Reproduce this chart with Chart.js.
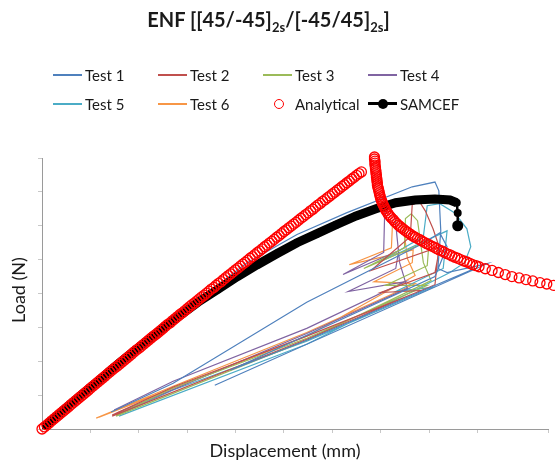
<!DOCTYPE html>
<html lang="en">
<head>
<meta charset="UTF-8">
<title>ENF load-displacement</title>
<script src="https://cdn.jsdelivr.net/npm/chart.js"></script>
<style>
    body { margin: 0; background: #fff; font-family: 'Lato', sans-serif; color: #1a1a1a; }
    .frame { position: relative; width: 555px; height: 462px; overflow: hidden; }
    #chart { position: absolute; left: 0; top: 0; }
    .title { position: absolute; top: 7px; left: 0; width: 537px; text-align: center; font-weight: bold; font-size: 20px; }
    .title sub { font-size: 13px; vertical-align: -5px; line-height: 0; }
    .leg { position: absolute; height: 18px; font-size: 15px; line-height: 18px; white-space: nowrap; }
    .leg .line { position: absolute; left: 0; top: 8px; width: 29px; height: 1.6px; }
    .leg .ring { position: absolute; left: 11px; top: 4px; width: 8px; height: 8px; border: 1.3px solid #ff0000; border-radius: 50%; }
    .leg .dot { position: absolute; left: 10px; top: 4px; width: 10px; height: 10px; background: #000; border-radius: 50%; }
    .leg span { position: absolute; left: 32px; top: 0; }
    .xtitle { position: absolute; top: 439px; left: 135px; width: 300px; text-align: center; font-size: 18px; }
    .ytitle { position: absolute; top: 279px; left: -32px; width: 100px; text-align: center; font-size: 18px; transform: rotate(-90deg); }
</style>
</head>
<body>
<div class="frame">
    <canvas id="chart" width="555" height="462"></canvas>
    <div class="title">ENF [[45/-45]<sub>2s</sub>/[-45/45]<sub>2s</sub>]</div>
    <div id="legend"></div>
    <div class="xtitle">Displacement (mm)</div>
    <div class="ytitle">Load (N)</div>
</div>
<script>
// displacement (mm), load (N)
const test1 = [[0.06,6],[2.20,268],[4.24,491],[5.27,574],[6.29,638],[7.65,715],[8.12,729],[8.20,703],[8.24,585],[8.18,474],[8.37,462],[9.20,488],[3.57,129],
    null,
    [1.43,50],[2.71,135],[5.47,374],[7.86,547],[8.22,579],[8.37,538],[8.12,450],[3.90,174],[5.47,262],[8.94,474]];
const test2 = [[1.45,41],[2.71,124],[5.47,274],[7.84,409],[7.00,403],[8.12,462],[8.22,538],[6.80,468],[7.61,568],[7.65,662],[7.80,671],[7.92,644],[8.08,591],[8.20,541],[8.12,426],[5.47,265],[1.45,38]];
const test3 = [[1.53,41],[2.71,121],[5.47,268],[7.96,424],[7.10,424],[7.96,482],[8.00,556],[6.65,474],[7.49,535],[7.51,621],[7.63,635],[7.76,615],[7.88,491],[8.04,438],[5.47,262],[1.53,38]];
const test4 = [[1.49,56],[2.71,141],[5.47,297],[7.51,435],[6.33,406],[7.31,474],[7.37,526],[6.22,456],[7.06,521],[7.08,635],[7.18,653],[7.29,632],[7.39,491],[7.55,415],[5.47,282],[1.55,47]];
const test5 = [[1.55,41],[2.71,115],[5.47,259],[8.08,418],[7.31,406],[8.29,474],[8.37,585],[6.94,491],[7.88,568],[7.96,659],[8.22,665],[8.53,638],[8.78,591],[8.86,538],[8.73,491],[8.43,462],[5.47,250],[1.59,38]];
const test6 = [[1.12,32],[2.71,126],[5.47,285],[7.71,429],[6.86,435],[7.65,491],[7.67,529],[6.35,485],[7.22,535],[7.24,600],[7.35,618],[7.47,597],[7.55,503],[7.71,453],[5.47,274],[1.18,35]];

const analytical = [[0,0],[0.05,6],[0.1,12],[0.15,18],[0.2,24],[0.25,30],[0.3,36],[0.35,42],[0.4,48],[0.45,54],
    [0.5,60],[0.55,66],[0.6,72],[0.65,78],[0.7,84],[0.75,90],[0.8,96],[0.85,102],[0.9,108],[0.95,114],
    [1.0,120],[1.05,126],[1.1,132],[1.15,138],[1.2,144],[1.25,150],[1.3,156],[1.35,162],[1.4,168],[1.45,174],
    [1.5,180],[1.55,185],[1.6,191],[1.65,197],[1.7,203],[1.75,209],[1.8,215],[1.85,221],[1.9,227],[1.95,233],
    [2.0,238],[2.05,244],[2.1,250],[2.15,256],[2.2,262],[2.25,268],[2.3,274],[2.35,279],[2.4,285],[2.45,291],
    [2.5,297],[2.55,303],[2.6,309],[2.65,314],[2.7,320],[2.75,326],[2.8,332],[2.85,338],[2.9,343],[2.95,349],
    [3.0,355],[3.05,361],[3.1,367],[3.15,372],[3.2,378],[3.25,384],[3.3,390],[3.35,395],[3.4,401],[3.45,407],
    [3.5,413],[3.55,418],[3.6,424],[3.65,430],[3.7,435],[3.75,441],[3.8,447],[3.85,453],[3.9,458],[3.95,464],
    [4.0,470],[4.05,475],[4.1,481],[4.15,487],[4.2,492],[4.25,498],[4.3,504],[4.35,509],[4.4,515],[4.45,521],
    [4.5,526],[4.55,532],[4.6,538],[4.65,543],[4.7,549],[4.75,554],[4.8,560],[4.85,566],[4.9,571],[4.95,577],
    [5.0,583],[5.05,588],[5.1,594],[5.15,599],[5.2,605],[5.25,610],[5.3,616],[5.35,622],[5.4,627],[5.45,633],
    [5.5,638],[5.55,644],[5.6,649],[5.65,655],[5.7,661],[5.75,666],[5.8,672],[5.85,677],[5.9,683],[5.95,688],
    [6.0,694],[6.05,699],[6.1,705],[6.15,710],[6.2,716],[6.25,721],[6.3,727],[6.35,732],[6.4,738],[6.45,743],
    [6.5,749],[6.55,754],[6.6,759],
    [6.87,803],[6.87,797],[6.88,791],[6.88,785],[6.88,779],[6.89,773],[6.89,768],[6.90,762],[6.90,756],[6.91,750],
    [6.91,744],[6.92,738],[6.92,732],[6.93,726],[6.93,720],[6.94,714],[6.95,709],[6.96,703],[6.97,697],[6.98,691],
    [6.99,685],[7.00,679],[7.02,673],[7.03,668],[7.05,662],[7.07,656],[7.09,650],[7.11,644],[7.14,638],[7.16,633],
    [7.19,628],[7.22,623],[7.26,618],[7.29,612],[7.33,607],[7.36,602],[7.40,598],[7.43,594],[7.47,590],[7.51,585],
    [7.55,581],[7.59,577],[7.63,573],[7.67,569],[7.71,566],[7.76,562],[7.81,559],[7.85,555],[7.90,551],[7.95,547],
    [8.00,544],[8.05,540],[8.10,537],[8.15,533],[8.20,529],[8.26,526],[8.31,522],[8.36,518],[8.42,515],[8.47,511],
    [8.53,507],[8.59,504],[8.65,500],[8.72,496],[8.78,493],[8.84,489],[8.90,485],[8.97,482],[9.03,479],[9.16,473],
    [9.30,468],[9.43,462],[9.57,456],[9.71,450],[9.86,446],[10.0,441],[10.14,437],[10.29,432],[10.43,428],[10.57,424]];

const samcef = [[0.02,3],[0.37,47],[0.78,97],[1.18,144],[1.59,194],[2.00,241],[2.41,288],[2.82,332],[3.22,374],
    [3.63,412],[4.04,450],[4.45,485],[4.86,518],[5.27,550],[5.67,576],[6.08,603],[6.49,629],[6.90,650],[7.31,668],
    [7.71,676],[8.12,679],[8.43,676],[8.57,668],[8.59,638],[8.59,600]];

const testNames = ['Test 1', 'Test 2', 'Test 3', 'Test 4', 'Test 5', 'Test 6'];
const testColors = ['#4F81BD', '#C0504D', '#9BBB59', '#8064A2', '#4BACC6', '#F79646'];
const testData = [test1, test2, test3, test4, test5, test6];

function pts(arr) {
    return arr.map(p => p ? { x: p[0], y: p[1] } : { x: null, y: null });
}

const datasets = [];
datasets.push({
    label: 'Analytical',
    data: pts(analytical),
    showLine: false,
    pointStyle: 'circle',
    pointRadius: 5,
    pointBorderWidth: 1.3,
    pointBorderColor: '#ff0000',
    pointBackgroundColor: 'rgba(0,0,0,0)',
    clip: false,
    order: 0
});
datasets.push({
    label: 'SAMCEF',
    data: pts(samcef),
    showLine: true,
    borderColor: '#000',
    backgroundColor: '#000',
    borderWidth: 9,
    segment: {
        borderWidth: ctx => ctx.p0DataIndex >= samcef.length - 3 ? 2.5 : 9
    },
    pointRadius: ctx => ctx.dataIndex === samcef.length - 1 ? 5.5 : 4,
    pointBackgroundColor: '#000',
    pointBorderWidth: 0,
    order: 1
});
testData.forEach((d, i) => {
    datasets.push({
        label: testNames[i],
        data: pts(d),
        showLine: true,
        spanGaps: false,
        borderColor: testColors[i],
        borderWidth: 1.2,
        pointRadius: 0,
        tension: 0,
        order: 2
    });
});

new Chart(document.getElementById('chart').getContext('2d'), {
    type: 'scatter',
    data: { datasets: datasets },
    options: {
        responsive: false,
        animation: false,
        layout: { padding: { left: 38, top: 158, right: 0, bottom: 29 } },
        plugins: { legend: { display: false }, tooltip: { enabled: false } },
        scales: {
            x: {
                min: 0, max: 10.47,
                ticks: { display: false, stepSize: 1 },
                grid: { drawOnChartArea: false, drawTicks: true, tickLength: 4, color: '#c8c8c8' },
                border: { color: '#9a9a9a', width: 1 }
            },
            y: {
                min: 0, max: 800,
                ticks: { display: false, stepSize: 100 },
                grid: { drawOnChartArea: false, drawTicks: true, tickLength: 4, color: '#c8c8c8' },
                border: { color: '#9a9a9a', width: 1 }
            }
        }
    }
});

// legend, two rows of four like the original
const legendSpots = [[53,75],[158,75],[263,75],[368,75],[53,104],[158,104],[263,104],[368,104]];
const legendEl = document.getElementById('legend');
const entries = testNames.map((n, i) => ({ name: n, kind: 'line', color: testColors[i] }))
    .concat([{ name: 'Analytical', kind: 'ring' }, { name: 'SAMCEF', kind: 'samcef' }]);
entries.forEach((e, i) => {
    const el = document.createElement('div');
    el.className = 'leg';
    el.style.left = legendSpots[i][0] + 'px';
    el.style.top = (legendSpots[i][1] - 9) + 'px';
    let sw = '';
    if (e.kind === 'line') sw = '<div class="line" style="background:' + e.color + '"></div>';
    if (e.kind === 'ring') sw = '<div class="ring"></div>';
    if (e.kind === 'samcef') sw = '<div class="line" style="background:#000;height:3px;top:7px"></div><div class="dot"></div>';
    el.innerHTML = sw + '<span>' + e.name + '</span>';
    legendEl.appendChild(el);
});
</script>
</body>
</html>
